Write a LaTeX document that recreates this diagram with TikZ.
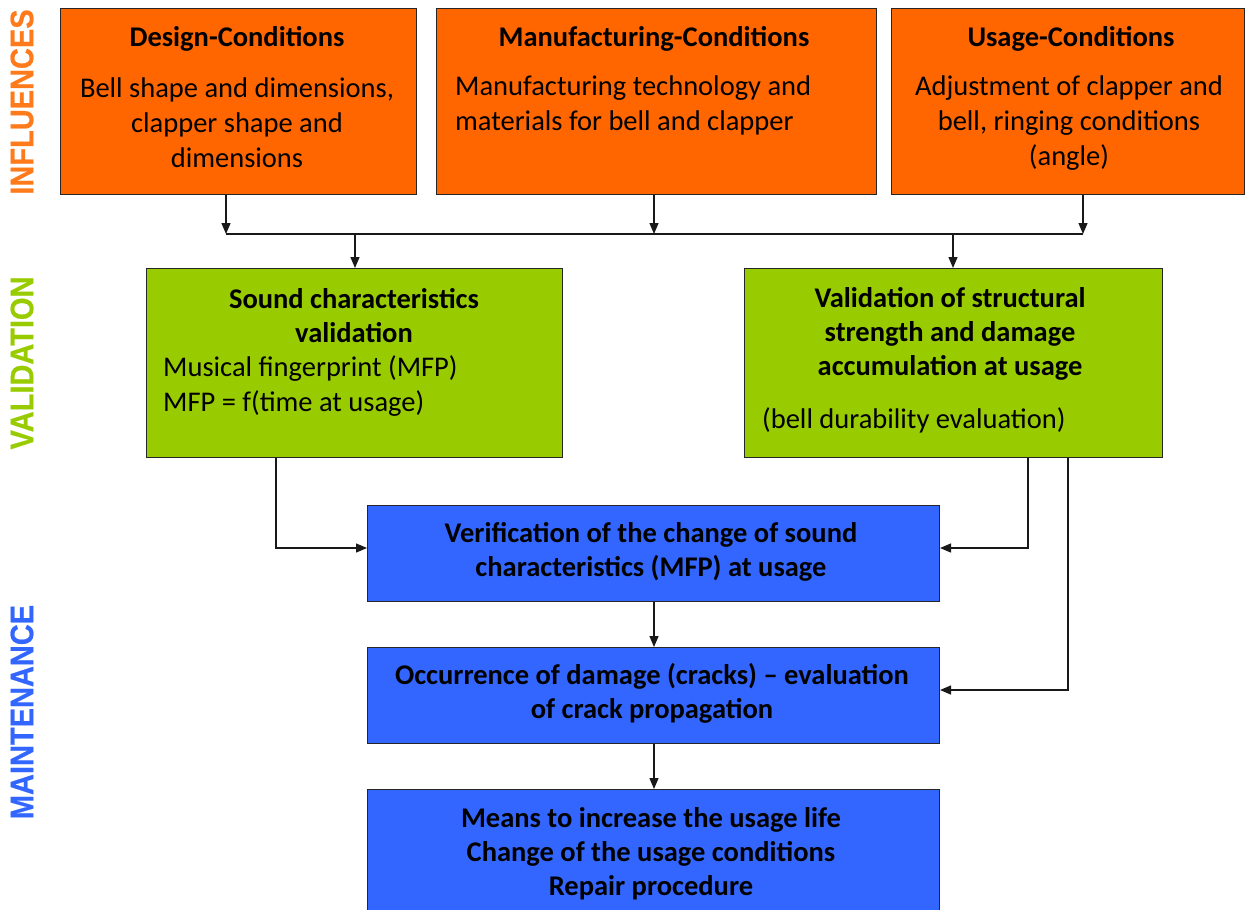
\documentclass[tikz,border=0pt]{standalone}
\usepackage{fontspec}
\setmainfont{Carlito}
\newfontfamily\sidefont{Liberation Sans}[UprightFont={* Bold}, FakeBold=0.6, BoldFeatures={FakeBold=0.6}]
\usetikzlibrary{arrows.meta}
\definecolor{borange}{HTML}{FF6600}
\definecolor{bgreen}{HTML}{99CC00}
\definecolor{bblue}{HTML}{3366FF}
\definecolor{lorange}{HTML}{FF7A1A}
\tikzset{
  box/.style={draw=black!85, line width=1pt, anchor=north west, inner sep=0pt},
  ttl/.style={font=\fontsize{28.5}{34}\selectfont\bfseries, align=center, inner sep=0pt},
  body/.style={font=\fontsize{28.5}{35}\selectfont, inner sep=0pt},
  side/.style={font=\sidefont\fontsize{29}{29}\selectfont, rotate=90, yscale=1.12, inner sep=0pt},
  conn/.style={line width=1.3pt, black!90},
  arr/.style={conn, -{Triangle[length=11pt,width=9pt]}},
}
\begin{document}
\begin{tikzpicture}[x=1pt,y=-1pt]
\useasboundingbox (0,0) rectangle (1245,910);
% side labels
\node[side, text=lorange] (lblinf) at (22,102) {INFLUENCES};
\node[side, text=bgreen] (lblval) at (22,363) {VALIDATION};
\node[side, text=bblue] (lblmnt) at (22,712) {MAINTENANCE};
% boxes
\node[box, fill=borange, minimum width=356pt, minimum height=186pt] (design) at (60,8) {};
\node[box, fill=borange, minimum width=440pt, minimum height=186pt] (manuf) at (436,8) {};
\node[box, fill=borange, minimum width=353pt, minimum height=186pt] (usage) at (891,8) {};
\node[box, fill=bgreen, minimum width=416pt, minimum height=189pt] (sound) at (146,268) {};
\node[box, fill=bgreen, minimum width=418pt, minimum height=189pt] (struct) at (744,268) {};
\node[box, fill=bblue, minimum width=572pt, minimum height=96pt] (verif) at (367,505) {};
\node[box, fill=bblue, minimum width=572pt, minimum height=96pt] (occur) at (367,647) {};
\node[box, fill=bblue, minimum width=572pt, minimum height=140pt] (means) at (367,789) {};
% texts
\node[ttl] (tdesign) at (237,39) {Design-Conditions};
\node[body, align=center] (bdesign) at (237,123) {Bell shape and dimensions,\\clapper shape and\\dimensions};
\node[ttl] (tmanuf) at (654,39) {Manufacturing-Conditions};
\node[body, align=left, anchor=west] (bmanuf) at (455,105.5) {Manufacturing technology and\\materials for bell and clapper};
\node[ttl] (tusage) at (1071,39) {Usage-Conditions};
\node[body, align=center] (busage) at (1069,123) {Adjustment of clapper and\\bell, ringing conditions\\(angle)};
\node[ttl] (tsound) at (354,316) {Sound characteristics\\validation};
\node[body, align=left, anchor=west] (bsound) at (163,386.5) {Musical fingerprint (MFP)\\MFP = f(time at usage)};
\node[ttl] (tstruct) at (950,334) {Validation of structural\\strength and damage\\accumulation at usage};
\node[body, anchor=west] (bstruct) at (762,420) {(bell durability evaluation)};
\node[ttl] (tverif) at (651,551.5) {Verification of the change of sound\\characteristics (MFP) at usage};
\node[ttl] (toccur) at (652,693.5) {Occurrence of damage (cracks) -- evaluation\\of crack propagation};
\node[ttl] (tmeans) at (651,853.5) {Means to increase the usage life\\Change of the usage conditions\\Repair procedure};
% connectors
\coordinate (jl) at (226,234);
\coordinate (jm) at (654,234);
\coordinate (jr) at (1083,234);
\coordinate (js) at (355,234);
\coordinate (jv) at (953,234);
\draw[arr] (design.south -| jl) -- (jl);
\draw[arr] (manuf.south -| jm) -- (jm);
\draw[arr] (usage.south -| jr) -- (jr);
\draw[conn] (jl) -- (jr);
\draw[arr] (js) -- (sound.north -| js);
\draw[arr] (jv) -- (struct.north -| jv);
\coordinate (c1) at (276,548);
\coordinate (c2) at (1028,548);
\coordinate (c3) at (1068,690);
\draw[arr] (sound.south -| c1) -- (c1) -- (verif.west |- c1);
\draw[arr] (struct.south -| c2) -- (c2) -- (verif.east |- c2);
\draw[arr] (struct.south -| c3) -- (c3) -- (occur.east |- c3);
\draw[arr] (verif.south -| jm) -- (occur.north -| jm);
\draw[arr] (occur.south -| jm) -- (means.north -| jm);
\end{tikzpicture}
\end{document}
